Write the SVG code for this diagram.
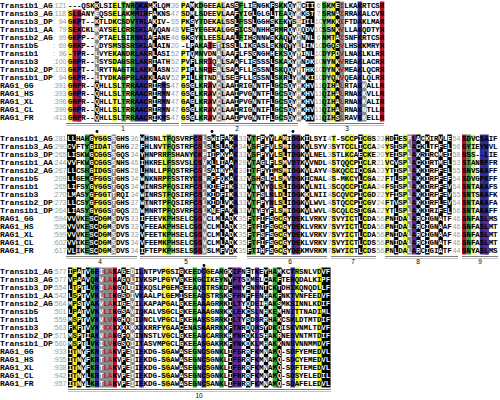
<svg xmlns="http://www.w3.org/2000/svg" xmlns:xlink="http://www.w3.org/1999/xlink" width="500" height="400" viewBox="0 0 500 400">
<style>
.n{font:bold 8px "Liberation Mono",monospace;fill:#000}
.g{font:7px "Liberation Sans",Arial,sans-serif;fill:#9a9a9a}
.s{font:bold 7.42px "Liberation Mono",monospace;fill:url(#tp)}
.l1{stroke:#7a7a7a;stroke-width:1}
.l2{stroke:#c4c4c4;stroke-width:1}
.lb{font:6.5px "Liberation Sans",Arial,sans-serif;fill:#000;text-anchor:middle}
</style>
<defs>
<g id="cK">
<rect x="94.7" y="1.5" width="4.45" height="8"/><rect x="94.7" y="17.5" width="4.45" height="8"/><rect x="94.7" y="81.5" width="4.45" height="40"/>
<rect x="152.55" y="1.5" width="4.45" height="120"/><rect x="189.9" y="1.5" width="4.45" height="120"/><rect x="234.4" y="1.5" width="4.45" height="120"/>
<rect x="252.2" y="1.5" width="4.45" height="120"/><rect x="270" y="1.5" width="4.45" height="120"/><rect x="287.8" y="1.5" width="4.45" height="120"/>
<rect x="305.6" y="1.5" width="8.9" height="120"/><rect x="335.35" y="1.5" width="4.45" height="120"/>
<rect x="67" y="134.5" width="8.9" height="120"/><rect x="89.25" y="134.5" width="4.45" height="120"/><rect x="93.7" y="214.5" width="4.45" height="40"/>
<rect x="140" y="134.5" width="4.45" height="120"/><rect x="211.2" y="134.5" width="4.45" height="80"/><rect x="220.1" y="134.5" width="4.45" height="120"/>
<rect x="229" y="134.5" width="4.45" height="120"/><rect x="247" y="134.5" width="4.45" height="120"/><rect x="260.35" y="134.5" width="4.45" height="120"/>
<rect x="269.25" y="134.5" width="4.45" height="48"/><rect x="269.25" y="206.5" width="4.45" height="48"/><rect x="282.6" y="134.5" width="4.45" height="120"/>
<rect x="304.85" y="134.5" width="4.45" height="80"/><rect x="358.2" y="134.5" width="4.45" height="120"/><rect x="393.9" y="134.5" width="4.45" height="120"/>
<rect x="416.15" y="134.5" width="4.45" height="120"/><rect x="425.05" y="134.5" width="4.45" height="120"/><rect x="438.4" y="134.5" width="4.45" height="120"/>
<rect x="447.3" y="134.5" width="4.45" height="80"/>
<rect x="68" y="267.5" width="4.45" height="120"/><rect x="76.9" y="267.5" width="4.45" height="120"/><rect x="85.8" y="267.5" width="4.45" height="120"/>
<rect x="121.4" y="267.5" width="4.45" height="120"/><rect x="179.25" y="267.5" width="4.45" height="120"/><rect x="228.2" y="267.5" width="4.45" height="120"/>
<rect x="246" y="267.5" width="4.45" height="120"/><rect x="263.8" y="267.5" width="4.45" height="120"/><rect x="277.15" y="267.5" width="4.45" height="120"/>
<rect x="321.65" y="267.5" width="8.9" height="120"/>
</g>
<g id="cD">
<rect x="94.7" y="9.5" width="4.45" height="8"/><rect x="94.7" y="25.5" width="4.45" height="56"/><rect x="216.6" y="41.5" width="4.45" height="80"/>
<rect x="296.7" y="1.5" width="4.45" height="120"/><rect x="339.8" y="1.5" width="4.45" height="120"/><rect x="362.05" y="81.5" width="4.45" height="40"/>
<rect x="111.5" y="134.5" width="4.45" height="120"/><rect x="202.3" y="134.5" width="4.45" height="120"/><rect x="407.25" y="134.5" width="4.45" height="120"/>
<rect x="99.15" y="267.5" width="13.35" height="120"/><rect x="130.3" y="267.5" width="4.45" height="120"/>
</g>
<pattern id="tp" patternUnits="userSpaceOnUse" x="0" y="0" width="500" height="400">
<rect width="500" height="400" fill="#000"/>
<use href="#cK" fill="#fff"/>
<use href="#cD" fill="#fff"/>
<rect x="339.8" y="1.5" width="4.45" height="120" fill="#c8102e"/>
<rect x="103.6" y="267.5" width="8.9" height="120" fill="#d01030"/>
</pattern>
</defs>
<rect width="500" height="400" fill="#fff"/>
<g id="shading">
<g id="lightgray" fill="#c6c6c6">
<rect x="221.05" y="1.5" width="4.45" height="120"/><rect x="326.45" y="1.5" width="4.45" height="120"/><rect x="75.9" y="214.5" width="4.45" height="40"/><rect x="144.45" y="134.5" width="4.45" height="80"/>
</g>
<g id="yellow" fill="#f2f21c">
<rect x="68" y="9.5" width="4.45" height="112"/><rect x="112.5" y="1.5" width="4.45" height="120"/><rect x="181" y="1.5" width="4.45" height="40"/><rect x="181" y="49.5" width="4.45" height="72"/>
<rect x="216.6" y="1.5" width="4.45" height="40"/><rect x="330.9" y="1.5" width="4.45" height="120"/>
<rect x="93.7" y="134.5" width="4.45" height="80"/><rect x="102.6" y="134.5" width="4.45" height="120"/><rect x="162.25" y="134.5" width="4.45" height="120"/>
<rect x="278.15" y="134.5" width="4.45" height="120"/><rect x="331.5" y="134.5" width="4.45" height="120"/><rect x="344.85" y="134.5" width="8.9" height="120"/>
<rect x="362.65" y="134.5" width="4.45" height="120"/><rect x="385" y="134.5" width="4.45" height="120"/><rect x="402.8" y="134.5" width="4.45" height="120"/>
<rect x="72.45" y="267.5" width="4.45" height="120"/><rect x="165.9" y="267.5" width="4.45" height="120"/><rect x="205.95" y="267.5" width="4.45" height="120"/>
<rect x="294.95" y="267.5" width="4.45" height="120"/><rect x="317.2" y="267.5" width="4.45" height="120"/>
</g>
<g id="paleyellow" fill="#dfec78">
<rect x="98.15" y="134.5" width="4.45" height="120"/><rect x="171.15" y="134.5" width="4.45" height="120"/><rect x="188.95" y="134.5" width="4.45" height="120"/>
<rect x="367.1" y="134.5" width="4.45" height="80"/><rect x="470.9" y="134.5" width="4.45" height="120"/><rect x="161.45" y="267.5" width="4.45" height="120"/>
</g>
<g id="green" fill="#33a133">
<rect x="121.4" y="1.5" width="4.45" height="120"/><rect x="130.3" y="1.5" width="4.45" height="120"/><rect x="198.8" y="1.5" width="4.45" height="120"/>
<rect x="238.85" y="1.5" width="4.45" height="40"/><rect x="278.9" y="1.5" width="4.45" height="120"/><rect x="322" y="1.5" width="4.45" height="120"/>
<rect x="84.8" y="134.5" width="4.45" height="120"/><rect x="166.7" y="134.5" width="4.45" height="120"/><rect x="251.45" y="134.5" width="4.45" height="120"/>
<rect x="466.45" y="134.5" width="4.45" height="120"/>
<rect x="90.25" y="267.5" width="4.45" height="120"/><rect x="192.6" y="267.5" width="4.45" height="120"/><rect x="219.3" y="267.5" width="4.45" height="120"/>
<rect x="272.7" y="267.5" width="4.45" height="120"/>
</g>
<g id="navy" fill="#2c2c94">
<rect x="76.9" y="17.5" width="4.45" height="104"/><rect x="134.75" y="1.5" width="13.35" height="120"/><rect x="161.45" y="81.5" width="4.45" height="40"/>
<rect x="357.6" y="1.5" width="4.45" height="120"/>
<rect x="193.4" y="134.5" width="4.45" height="120"/><rect x="233.45" y="134.5" width="4.45" height="80"/><rect x="291.5" y="134.5" width="4.45" height="120"/>
<rect x="479.8" y="134.5" width="8.9" height="120"/>
<rect x="94.7" y="267.5" width="4.45" height="120"/><rect x="139.2" y="267.5" width="4.45" height="120"/><rect x="201.5" y="267.5" width="4.45" height="120"/>
<rect x="290.5" y="267.5" width="4.45" height="120"/>
</g>
<g id="purple" fill="#5e2a8c">
<rect x="139.2" y="9.5" width="4.45" height="72"/>
<rect x="269.25" y="182.5" width="4.45" height="24"/><rect x="295.95" y="134.5" width="4.45" height="120"/><rect x="411.7" y="134.5" width="4.45" height="120"/>
<rect x="484.25" y="214.5" width="4.45" height="40"/>
<rect x="232.65" y="267.5" width="8.9" height="120"/><rect x="254.9" y="267.5" width="4.45" height="120"/>
</g>
<g id="crimson" fill="#b3112e">
<rect x="72.45" y="9.5" width="4.45" height="112"/><rect x="76.9" y="9.5" width="4.45" height="8"/><rect x="76.9" y="25.5" width="4.45" height="8"/>
<rect x="76.9" y="41.5" width="4.45" height="8"/><rect x="76.9" y="81.5" width="4.45" height="8"/><rect x="76.9" y="97.5" width="4.45" height="8"/>
<rect x="76.9" y="113.5" width="4.45" height="8"/><rect x="207.7" y="41.5" width="4.45" height="8"/><rect x="207.7" y="57.5" width="4.45" height="16"/>
<rect x="207.7" y="81.5" width="4.45" height="40"/><rect x="379.85" y="1.5" width="4.45" height="120"/>
<rect x="197.85" y="134.5" width="4.45" height="120"/><rect x="462" y="134.5" width="4.45" height="120"/>
<rect x="112.5" y="267.5" width="4.45" height="120"/>
</g>
<use href="#cD" fill="#8a8a8a"/>
<use href="#cK" fill="#000"/>
</g>
<g id="block1">
<text y="8"><tspan class="n" x="0">Transib1_AG</tspan><tspan class="g" x="52.9">:121</tspan><tspan class="s" x="68">---QSKKLSIELTNRQKAMKLQM</tspan><tspan class="g" x="171">36</tspan><tspan class="s" x="181">PAMKDGEEALASSFLIGNGKFSKKQYNCII</tspan><tspan class="g" x="316.7">6</tspan><tspan class="s" x="322">SKMEILKAKRTCSR</tspan></text>
<text y="16"><tspan class="n" x="0">Transib3_AG</tspan><tspan class="g" x="52.9">:118</tspan><tspan class="s" x="68">SLGANYEQSSELAKMMIRFAKNS</tspan><tspan class="g" x="171">47</tspan><tspan class="s" x="181">SDMLSDEEVLAAFYIGLGLGLTEAQYKKST</tspan><tspan class="g" x="316.7">7</tspan><tspan class="s" x="322">SRNAIRRAKALCVR</tspan></text>
<text y="24"><tspan class="n" x="0">Transib3_DP</tspan><tspan class="g" x="52.9">:&#8199;94</tspan><tspan class="s" x="68">GKPT--KTLDKCSDVTRLAKIV-</tspan><tspan class="g" x="171">55</tspan><tspan class="s" x="181">PKSYTDEKALSSLFSSLGGHSKEKYSSIIL</tspan><tspan class="g" x="314.8">10</tspan><tspan class="s" x="322">YMKKIFTDAKLMAR</tspan></text>
<text y="32"><tspan class="n" x="0">Transib1_AA</tspan><tspan class="g" x="52.9">:&#8199;79</tspan><tspan class="s" x="68">SEKCKLKAYSELCRRSKLAVQAN</tspan><tspan class="g" x="171">48</tspan><tspan class="s" x="181">VEEYEGEKALGGFICSNNHHSRMRQYQQDV</tspan><tspan class="g" x="314.8">10</tspan><tspan class="s" x="322">SSNKVLLAKQDTYR</tspan></text>
<text y="40"><tspan class="n" x="0">Transib2_AG</tspan><tspan class="g" x="52.9">:&#8199;99</tspan><tspan class="s" x="68">GKPP--KPTAELSIRNKLAFANE</tspan><tspan class="g" x="171">46</tspan><tspan class="s" x="181">GKSYKLEESLAALFIHSNNWSKAQYYINNL</tspan><tspan class="g" x="316.7">6</tspan><tspan class="s" x="322">NMTAISNFKRTCSR</tspan></text>
<text y="48"><tspan class="n" x="0">Transib5</tspan><tspan class="g" x="52.9">:&#8199;69</tspan><tspan class="s" x="68">GRKP--VDYSMSSSRSKLALAIN</tspan><tspan class="g" x="171">20</tspan><tspan class="s" x="181">-LPAKAIETISSLLIKGASLSKNQYYLLIN</tspan><tspan class="g" x="314.8">10</tspan><tspan class="s" x="322">DGQSVLHSKKMRYR</tspan></text>
<text y="56"><tspan class="n" x="0">Transib1</tspan><tspan class="g" x="52.9">:&#8199;96</tspan><tspan class="s" x="68">-TPR--LVYEKANDRLAKRLASI</tspan><tspan class="g" x="171">52</tspan><tspan class="s" x="181">PTQMNVDNALAAFLFSGNGHHEKSQYYINL</tspan><tspan class="g" x="314.8">10</tspan><tspan class="s" x="322">DYPDVLNAKLKLRR</tspan></text>
<text y="64"><tspan class="n" x="0">Transib3</tspan><tspan class="g" x="52.9">:100</tspan><tspan class="s" x="68">GRPR--LSYSDAGSRLAKRIATH</tspan><tspan class="g" x="171">52</tspan><tspan class="s" x="181">PVFLRRIQALSAAFLISSSSLSKAKYYNDK</tspan><tspan class="g" x="314.8">10</tspan><tspan class="s" x="322">NYNKVREAKLACRR</tspan></text>
<text y="72"><tspan class="n" x="0">Transib2_DP</tspan><tspan class="g" x="52.9">:103</tspan><tspan class="s" x="68">GKPT--LRYTNAGTRLAKKLASN</tspan><tspan class="g" x="171">52</tspan><tspan class="s" x="181">PIPLNRDEALSAAFLLGSSNLSKQQYYTHK</tspan><tspan class="g" x="314.8">10</tspan><tspan class="s" x="322">DYNKVMEAKLQCRR</tspan></text>
<text y="80"><tspan class="n" x="0">Transib1_DP</tspan><tspan class="g" x="52.9">:&#8199;94</tspan><tspan class="s" x="68">GKPR--LTYDKAGPRLAKKLAAV</tspan><tspan class="g" x="171">52</tspan><tspan class="s" x="181">PILLRTNDALSEEFLLGSSNLSKRLYYNKI</tspan><tspan class="g" x="314.8">10</tspan><tspan class="s" x="322">DYQNVQEAKLQLRR</tspan></text>
<text y="88"><tspan class="n" x="0">RAG1_GG</tspan><tspan class="g" x="52.9">:391</tspan><tspan class="s" x="68">GRPR--QHLLSLTRRAACRIRMS</tspan><tspan class="g" x="171">47</tspan><tspan class="s" x="181">GSGLKRAVCLAAIRIGNNTFLGCSQYHKHV</tspan><tspan class="g" x="314.8">11</tspan><tspan class="s" x="322">QIHALRTAKKALLR</tspan></text>
<text y="96"><tspan class="n" x="0">RAG1_HS</tspan><tspan class="g" x="52.9">:393</tspan><tspan class="s" x="68">GRPR--QHLLSLTRRAACRIRMN</tspan><tspan class="g" x="171">47</tspan><tspan class="s" x="181">GSGLKRAVCLAAIPVGNNTFLGCSQYHKHV</tspan><tspan class="g" x="314.8">11</tspan><tspan class="s" x="322">QIHALRNAKKVLLR</tspan></text>
<text y="104"><tspan class="n" x="0">RAG1_XL</tspan><tspan class="g" x="52.9">:396</tspan><tspan class="s" x="68">GRPR--QHLLTLTRRAACRIRMN</tspan><tspan class="g" x="171">47</tspan><tspan class="s" x="181">GAGLKRAVCLAAIPVGNNTFLGCSQYHKHV</tspan><tspan class="g" x="314.8">11</tspan><tspan class="s" x="322">QIHALRNAKKALIR</tspan></text>
<text y="112"><tspan class="n" x="0">RAG1_CL</tspan><tspan class="g" x="52.9">:399</tspan><tspan class="s" x="68">GRPR--QHLLSLTRRAACRIRMN</tspan><tspan class="g" x="171">47</tspan><tspan class="s" x="181">GSGLKRAVCLAAIRIGNNIFLGCSQYHKHV</tspan><tspan class="g" x="314.8">11</tspan><tspan class="s" x="322">QIHALRNAKNTLLR</tspan></text>
<text y="120"><tspan class="n" x="0">RAG1_FR</tspan><tspan class="g" x="52.9">:413</tspan><tspan class="s" x="68">GRPR--QHLLSLTRRAACRIKMS</tspan><tspan class="g" x="171">47</tspan><tspan class="s" x="181">GSGLKRAVCLAAIPVGNNTFLGCSQYHKHV</tspan><tspan class="g" x="314.8">11</tspan><tspan class="s" x="322">QIHSLRAVKKELLR</tspan></text>
</g>
<g id="block2">
<text y="141"><tspan class="n" x="0">Transib1_AG</tspan><tspan class="g" x="52.9">:281</tspan><tspan class="s" x="67">LLHAHGYGGSSGHS</tspan><tspan class="g" x="130.5">36</tspan><tspan class="s" x="140">WHSNLTFQSVRFCSLSWIFAKA</tspan><tspan class="g" x="238.5">33</tspan><tspan class="s" x="247">VTFPYYLAMIDGKILSYI</tspan><tspan class="g" x="327.6">4</tspan><tspan class="s" x="331.5">T-SCCPICGS</tspan><tspan class="g" x="376.6">23</tspan><tspan class="s" x="385">HDIESPLACKIRVLE</tspan><tspan class="g" x="452.5">54</tspan><tspan class="s" x="462">SDVCSAIF</tspan></text>
<text y="149"><tspan class="n" x="0">Transib3_AG</tspan><tspan class="g" x="52.9">:290</tspan><tspan class="s" x="67">CVFTYGIDATSGHG</tspan><tspan class="g" x="130.5">22</tspan><tspan class="s" x="140">FHLNVTFQSTRFCSLSLSLAKP</tspan><tspan class="g" x="238.5">34</tspan><tspan class="s" x="247">VSFPFVLSMIDGKVLSYV</tspan><tspan class="g" x="327.6">3</tspan><tspan class="s" x="331.5">SYTCCLICCA</tspan><tspan class="g" x="376.6">24</tspan><tspan class="s" x="385">YSISPLACKLTFFEL</tspan><tspan class="g" x="452.5">56</tspan><tspan class="s" x="462">GYIEYNVL</tspan></text>
<text y="157"><tspan class="n" x="0">Transib3_DP</tspan><tspan class="g" x="52.9">:265</tspan><tspan class="s" x="67">LISKWGCGGSSGQS</tspan><tspan class="g" x="130.5">34</tspan><tspan class="s" x="140">YHNPRRFSHANYCKPIIPKYAK</tspan><tspan class="g" x="238.5">33</tspan><tspan class="s" x="247">VSFPYYLSLTDGKVLNEL</tspan><tspan class="g" x="327.6">3</tspan><tspan class="s" x="331.5">STLKCAECKE</tspan><tspan class="g" x="376.6">20</tspan><tspan class="s" x="385">YEISPLAKRIRCMEI</tspan><tspan class="g" x="452.5">58</tspan><tspan class="s" x="462">NSS--LIE</tspan></text>
<text y="165"><tspan class="n" x="0">Transib1_AA</tspan><tspan class="g" x="52.9">:244</tspan><tspan class="s" x="67">VVFKWGCGGSSNHS</tspan><tspan class="g" x="130.5">45</tspan><tspan class="s" x="140">IHKRELFSSVSLCSVKLLIAAP</tspan><tspan class="g" x="238.5">29</tspan><tspan class="s" x="247">VTAGLFLSMVDTKVVNDL</tspan><tspan class="g" x="327.6">4</tspan><tspan class="s" x="331.5">STQQCPICLR</tspan><tspan class="g" x="376.6">21</tspan><tspan class="s" x="385">VCVSPLACKIRTMEL</tspan><tspan class="g" x="452.5">53</tspan><tspan class="s" x="462">STANRFFR</tspan></text>
<text y="173"><tspan class="n" x="0">Transib2_AG</tspan><tspan class="g" x="52.9">:267</tspan><tspan class="s" x="67">LLCSHGIDGSTGHS</tspan><tspan class="g" x="130.5">28</tspan><tspan class="s" x="140">LHNLLPFQSTRFCSLSAIKYAK</tspan><tspan class="g" x="238.5">33</tspan><tspan class="s" x="247">ITFPYIMSMIDGKVLAYV</tspan><tspan class="g" x="327.6">4</tspan><tspan class="s" x="331.5">SKQCCICCGA</tspan><tspan class="g" x="376.6">23</tspan><tspan class="s" x="385">YTISPLAKKIRFFEL</tspan><tspan class="g" x="452.5">55</tspan><tspan class="s" x="462">SNVSKAFF</tspan></text>
<text y="181"><tspan class="n" x="0">Transib5</tspan><tspan class="g" x="52.9">:209</tspan><tspan class="s" x="67">LLGEMGFGGSTGHS</tspan><tspan class="g" x="130.5">34</tspan><tspan class="s" x="140">WNKNRPFSSTRYCSNRPFQKAK</tspan><tspan class="g" x="238.5">32</tspan><tspan class="s" x="247">VSHSLCLSMVDGKICNAL</tspan><tspan class="g" x="327.6">4</tspan><tspan class="s" x="331.5">S-MKCYLCGA</tspan><tspan class="g" x="376.6">22</tspan><tspan class="s" x="385">FTLSPLAKKIRFFEF</tspan><tspan class="g" x="452.5">54</tspan><tspan class="s" x="462">SDVGPKFF</tspan></text>
<text y="189"><tspan class="n" x="0">Transib1</tspan><tspan class="g" x="52.9">:265</tspan><tspan class="s" x="67">LIFSYGYGGSTGQS</tspan><tspan class="g" x="130.5">34</tspan><tspan class="s" x="140">WINRSPFQSIRFCSLKIEFIKS</tspan><tspan class="g" x="238.5">32</tspan><tspan class="s" x="247">VTYVYQLSLIDGKVLNIL</tspan><tspan class="g" x="327.6">3</tspan><tspan class="s" x="331.5">SCQCCPICAA</tspan><tspan class="g" x="376.6">24</tspan><tspan class="s" x="385">FSISPLAKKIRFFEV</tspan><tspan class="g" x="452.5">54</tspan><tspan class="s" x="462">SNTAKAFS</tspan></text>
<text y="197"><tspan class="n" x="0">Transib3</tspan><tspan class="g" x="52.9">:270</tspan><tspan class="s" x="67">LMASYGFGGTTRQI</tspan><tspan class="g" x="130.5">34</tspan><tspan class="s" x="140">WINRSTFQSIRFCSLKIDFIKA</tspan><tspan class="g" x="238.5">33</tspan><tspan class="s" x="247">VTFSLNLDLIDGKKLNII</tspan><tspan class="g" x="327.6">4</tspan><tspan class="s" x="331.5">SCQVCPICGD</tspan><tspan class="g" x="376.6">22</tspan><tspan class="s" x="385">YFISPLAKKIRFFEV</tspan><tspan class="g" x="452.5">55</tspan><tspan class="s" x="462">SNTSKAFK</tspan></text>
<text y="205"><tspan class="n" x="0">Transib2_DP</tspan><tspan class="g" x="52.9">:273</tspan><tspan class="s" x="67">LLCSYGFGGSTGHS</tspan><tspan class="g" x="130.5">37</tspan><tspan class="s" x="140">WTNRTPFQSIRFCSLKIDLVKA</tspan><tspan class="g" x="238.5">33</tspan><tspan class="s" x="247">VTFPYNLSLIDGKVLWVL</tspan><tspan class="g" x="327.6">4</tspan><tspan class="s" x="331.5">STQCCPICGV</tspan><tspan class="g" x="376.6">24</tspan><tspan class="s" x="385">FTVSPLAKKIRFLEV</tspan><tspan class="g" x="452.5">54</tspan><tspan class="s" x="462">SNTAKAFA</tspan></text>
<text y="213"><tspan class="n" x="0">Transib1_DP</tspan><tspan class="g" x="52.9">:264</tspan><tspan class="s" x="67">LIASYGYGGSTGQS</tspan><tspan class="g" x="130.5">35</tspan><tspan class="s" x="140">WMNRTPFQSVRFCSLKNEFAKA</tspan><tspan class="g" x="238.5">33</tspan><tspan class="s" x="247">VTYEYFLSMIDGKVLWVL</tspan><tspan class="g" x="327.6">4</tspan><tspan class="s" x="331.5">SCQLCSICGA</tspan><tspan class="g" x="376.6">22</tspan><tspan class="s" x="385">YTLSPLAKKIRIFEL</tspan><tspan class="g" x="452.5">56</tspan><tspan class="s" x="462">SNTAKAFF</tspan></text>
<text y="221"><tspan class="n" x="0">RAG1_GG</tspan><tspan class="g" x="52.9">:594</tspan><tspan class="s" x="67">VVVKESCDGMSDVS</tspan><tspan class="g" x="130.5">33</tspan><tspan class="s" x="140">IFEEVKPHSELCSSVCLMLADK</tspan><tspan class="g" x="238.5">35</tspan><tspan class="s" x="247">FTFIFSGCGYDEKLVRKV</tspan><tspan class="g" x="327.6">7</tspan><tspan class="s" x="331.5">SVYICTLCDA</tspan><tspan class="g" x="376.6">56</tspan><tspan class="s" x="385">PNIDALARCIGNATF</tspan><tspan class="g" x="452.5">46</tspan><tspan class="s" x="462">SNFASLMS</tspan></text>
<text y="229"><tspan class="n" x="0">RAG1_HS</tspan><tspan class="g" x="52.9">:596</tspan><tspan class="s" x="67">VVVKESCDGMSDVS</tspan><tspan class="g" x="130.5">33</tspan><tspan class="s" x="140">VFEEAKPHSELCSSVCLMLADK</tspan><tspan class="g" x="238.5">35</tspan><tspan class="s" x="247">FTFIFSGCGYDEKLVRKV</tspan><tspan class="g" x="327.6">7</tspan><tspan class="s" x="331.5">SVYICTLCDA</tspan><tspan class="g" x="376.6">56</tspan><tspan class="s" x="385">PNIDALARCIGNAAF</tspan><tspan class="g" x="452.5">46</tspan><tspan class="s" x="462">SNFASLMT</tspan></text>
<text y="237"><tspan class="n" x="0">RAG1_XL</tspan><tspan class="g" x="52.9">:599</tspan><tspan class="s" x="67">VVVKESCDGMSDVS</tspan><tspan class="g" x="130.5">33</tspan><tspan class="s" x="140">VFEETKPHSELCSSVCLMLADK</tspan><tspan class="g" x="238.5">35</tspan><tspan class="s" x="247">FTFSFSGCGYDEKLVRKV</tspan><tspan class="g" x="327.6">7</tspan><tspan class="s" x="331.5">SVYICTLCDA</tspan><tspan class="g" x="376.6">56</tspan><tspan class="s" x="385">PNIDALARCIGNAAF</tspan><tspan class="g" x="452.5">46</tspan><tspan class="s" x="462">SNFASLMT</tspan></text>
<text y="245"><tspan class="n" x="0">RAG1_CL</tspan><tspan class="g" x="52.9">:602</tspan><tspan class="s" x="67">VVIKESCDGMSDVS</tspan><tspan class="g" x="130.5">34</tspan><tspan class="s" x="140">VFEEMKPHSELCSSVCLMLADK</tspan><tspan class="g" x="238.5">35</tspan><tspan class="s" x="247">FTFIFSGCGYDEKLVRKV</tspan><tspan class="g" x="327.6">7</tspan><tspan class="s" x="331.5">SVYICTLCDS</tspan><tspan class="g" x="376.6">56</tspan><tspan class="s" x="385">PNIDALARCIGNATF</tspan><tspan class="g" x="452.5">46</tspan><tspan class="s" x="462">SNFASLMT</tspan></text>
<text y="253"><tspan class="n" x="0">RAG1_FR</tspan><tspan class="g" x="52.9">:617</tspan><tspan class="s" x="67">VLIKESCDGMSDVS</tspan><tspan class="g" x="130.5">34</tspan><tspan class="s" x="140">IFTEPKPHSELSSSVSLMFVDK</tspan><tspan class="g" x="238.5">35</tspan><tspan class="s" x="247">FTIHFSGCGYDEKMVRKM</tspan><tspan class="g" x="327.6">7</tspan><tspan class="s" x="331.5">SWYICTLCDS</tspan><tspan class="g" x="376.6">56</tspan><tspan class="s" x="385">PNLDALARCIGIATF</tspan><tspan class="g" x="452.5">44</tspan><tspan class="s" x="462">SNYASLMS</tspan></text>
</g>
<g id="block3">
<text y="274"><tspan class="n" x="0">Transib1_AG</tspan><tspan class="g" x="52.9">:577</tspan><tspan class="s" x="68">IPATVGEILAKAGEDILNTPVPGSIGKEEDCGEARGKIFNETKEYHAMKCTRSNLVDVF</tspan></text>
<text y="282"><tspan class="n" x="0">Transib3_AG</tspan><tspan class="g" x="52.9">:577</tspan><tspan class="s" x="68">VPAAVQKVLAKAGQLIVKSPLPGYVGKEKGCIKEYNYFTSDMELCAKFTERQDALKIPF</tspan></text>
<text y="290"><tspan class="n" x="0">Transib3_DP</tspan><tspan class="g" x="52.9">:554</tspan><tspan class="s" x="68">LTPTLVKILAKGQLIIEKQSLPGEMSEEAQSTRSKDFHNYENMNTCKTDHIKQNQDLLF</tspan></text>
<text y="298"><tspan class="n" x="0">Transib1_AA</tspan><tspan class="g" x="52.9">:542</tspan><tspan class="s" x="68">LSPTVVKLLIKGSDIVKAALPLGEMISEEAQSTRSKSFHNFFENHAKFNKTVNFEEDVF</tspan></text>
<text y="306"><tspan class="n" x="0">Transib2_AG</tspan><tspan class="g" x="52.9">:564</tspan><tspan class="s" x="68">MPSTVAKVLAKIGEVILKAPAPGALGKEEAAAGRRKILTYQDEIHAKSMKSINNLKDIF</tspan></text>
<text y="314"><tspan class="n" x="0">Transib5</tspan><tspan class="g" x="52.9">:501</tspan><tspan class="s" x="68">LPATVVKVLIKGSAVIQKALVSGCLSKEEAAAGNRKKLEKCSLNHKEMHNITTNADIML</tspan></text>
<text y="322"><tspan class="n" x="0">Transib1</tspan><tspan class="g" x="52.9">:559</tspan><tspan class="s" x="68">MSPTVVKVLVKGHQIIDNCLVPGCLGKEHASSSRRKILTYSDSRRHAKCSMLDTMTDIF</tspan></text>
<text y="330"><tspan class="n" x="0">Transib3</tspan><tspan class="g" x="52.9">:563</tspan><tspan class="s" x="68">FKFTVVKXXXXXXXXXXKRRFYGAACENASNARRKKFTNRDQRSYDKQISKVNMLTDVF</tspan></text>
<text y="338"><tspan class="n" x="0">Transib2_DP</tspan><tspan class="g" x="52.9">:571</tspan><tspan class="s" x="68">MSPTIAKVLAKGFQKINNSTLVGCLGKEEASCARRKHYNRDKLSHAKRNESVNTMTDIF</tspan></text>
<text y="346"><tspan class="n" x="0">Transib1_DP</tspan><tspan class="g" x="52.9">:560</tspan><tspan class="s" x="68">MSPTLVKILVKGSQIITASVMPGCLGKEEASGAKRKFYNKDKLMHAKKNNSVNNMMDVF</tspan></text>
<text y="354"><tspan class="n" x="0">RAG1_GG</tspan><tspan class="g" x="52.9">:933</tspan><tspan class="s" x="68">ITNYFKRTLAKVPEIIEKDG-SGAWASEGNCSGNKLIFSRRFKMNAMQ-SDFYEMEDVL</tspan></text>
<text y="362"><tspan class="n" x="0">RAG1_HS</tspan><tspan class="g" x="52.9">:935</tspan><tspan class="s" x="68">ITNYFKRTLAKVPEIIEKDG-SGAWASEGNCSGNKLIFSRRFKMNAMQ-SDCYEMEDVL</tspan></text>
<text y="370"><tspan class="n" x="0">RAG1_XL</tspan><tspan class="g" x="52.9">:938</tspan><tspan class="s" x="68">ITNYFKRTLAKVPEIIEKDG-SGAWASEGNCSGNKLIFSRRFKMNAMQ-SDFTEMEDVL</tspan></text>
<text y="378"><tspan class="n" x="0">RAG1_CL</tspan><tspan class="g" x="52.9">:942</tspan><tspan class="s" x="68">ITNYLKRTLAKVPEIIEKDG-SGAWASEGNCSGNKLIFNRRFKMNAMQ-SDSYELEDIL</tspan></text>
<text y="386"><tspan class="n" x="0">RAG1_FR</tspan><tspan class="g" x="52.9">:957</tspan><tspan class="s" x="68">ITNYLKRTLAKVPEIIEKDG-SGAWASEGNCSANKLIFNRRFKMNAMQ-SDAFELEDVL</tspan></text>
</g>
<g id="annotations">
<path class="l1" d="M66 123.5H179M181 123.5H298M308 123.5H384M66 256.5H137M140 256.5H237M247 256.5H327M331 256.5H376M385 256.5H458M462 256.5H498M68 389.5H331"/>
<path class="l2" d="M66 125.5H179M181 125.5H298M308 125.5H384M66 258.5H137M140 258.5H237M247 258.5H327M331 258.5H376M385 258.5H458M462 258.5H498M68 391.5H331"/>
<text class="lb" x="123" y="131">1</text><text class="lb" x="237" y="131">2</text><text class="lb" x="347" y="131">3</text>
<text class="lb" x="100" y="264">4</text><text class="lb" x="186" y="264">5</text><text class="lb" x="290" y="264">6</text>
<text class="lb" x="353" y="264">7</text><text class="lb" x="418" y="264">8</text><text class="lb" x="480" y="264">9</text>
<text class="lb" x="199" y="397.5">10</text>
<g fill="#000"><circle cx="97" cy="131.5" r="1.4"/><circle cx="212" cy="131.5" r="1.4"/><circle cx="293" cy="131.5" r="1.4"/><circle cx="204" cy="265.5" r="1.4"/></g>
</g>
</svg>
